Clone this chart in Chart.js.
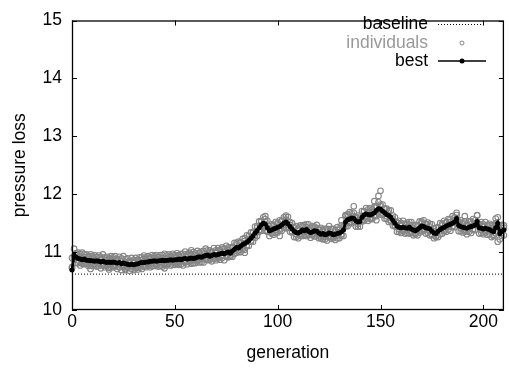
<!DOCTYPE html>
<html><head><meta charset="utf-8">
<script src="https://cdn.jsdelivr.net/npm/chart.js@4"></script>
<style>html,body{margin:0;padding:0;background:#fff}canvas{display:block}</style>
</head><body>
<canvas id="c" width="509" height="369"></canvas>
<script>
const xTicks = [0, 50, 100, 150, 200];
const yTicks = [10, 11, 12, 13, 14, 15];
const baseline = 10.62;
const best = [
10.69,10.95,10.91,10.89,10.88,10.87,10.88,10.86,10.86,10.85,
10.85,10.84,10.85,10.84,10.83,10.84,10.83,10.82,10.83,10.82,
10.83,10.82,10.81,10.82,10.80,10.81,10.80,10.79,10.78,10.79,
10.78,10.79,10.80,10.81,10.82,10.82,10.83,10.83,10.84,10.84,
10.85,10.84,10.85,10.85,10.86,10.85,10.86,10.86,10.87,10.86,
10.87,10.87,10.88,10.87,10.88,10.89,10.88,10.89,10.90,10.89,
10.90,10.91,10.92,10.91,10.93,10.94,10.95,10.93,10.94,10.96,
10.95,10.96,10.97,10.98,10.97,10.99,11.00,10.98,11.02,11.05,
11.08,11.07,11.10,11.13,11.15,11.17,11.20,11.24,11.28,11.33,
11.37,11.42,11.47,11.50,11.48,11.42,11.37,11.38,11.40,11.41,
11.43,11.44,11.47,11.50,11.52,11.49,11.44,11.40,11.36,11.34,
11.33,11.35,11.38,11.37,11.39,11.36,11.34,11.35,11.37,11.36,
11.33,11.31,11.32,11.30,11.31,11.33,11.32,11.30,11.31,11.32,
11.33,11.35,11.38,11.52,11.56,11.57,11.59,11.58,11.54,11.52,
11.53,11.60,11.64,11.66,11.65,11.64,11.66,11.68,11.72,11.75,
11.74,11.71,11.68,11.65,11.63,11.60,11.55,11.50,11.45,11.43,
11.42,11.43,11.42,11.41,11.43,11.40,11.38,11.37,11.39,11.42,
11.45,11.44,11.42,11.41,11.40,11.36,11.33,11.32,11.36,11.39,
11.41,11.43,11.45,11.47,11.48,11.50,11.52,11.58,11.46,11.44,
11.43,11.42,11.41,11.43,11.44,11.45,11.47,11.53,11.42,11.41,
11.40,11.41,11.40,11.39,11.37,11.35,11.42,11.50,11.32,11.36,11.38];
const indHi = [
10.90,11.06,10.98,10.99,10.97,10.99,10.96,10.96,10.93,10.96,
10.93,10.95,10.92,10.94,10.92,10.96,10.91,10.92,10.90,10.93,
10.91,10.93,10.88,10.92,10.89,10.93,10.88,10.89,10.85,10.90,
10.86,10.90,10.87,10.91,10.91,10.94,10.91,10.93,10.91,10.95,
10.93,10.95,10.92,10.95,10.95,10.97,10.94,10.96,10.94,10.97,
10.95,10.98,10.95,10.97,10.97,11.01,10.96,10.99,10.97,11.00,
10.98,11.02,10.99,11.01,11.02,11.06,11.03,11.03,11.01,11.07,
11.03,11.07,11.04,11.08,11.06,11.11,11.08,11.08,11.09,11.16,
11.16,11.18,11.17,11.23,11.24,11.29,11.28,11.34,11.35,11.44,
11.45,11.53,11.54,11.60,11.57,11.54,11.45,11.48,11.47,11.52,
11.51,11.55,11.54,11.60,11.61,11.61,11.52,11.50,11.43,11.45,
11.41,11.46,11.45,11.47,11.48,11.48,11.42,11.45,11.44,11.47,
11.41,11.42,11.39,11.40,11.40,11.45,11.40,11.40,11.38,11.43,
11.41,11.46,11.45,11.62,11.65,11.69,11.67,11.68,11.61,11.63,
11.61,11.71,11.71,11.76,11.74,11.76,11.74,11.78,11.79,11.86,
11.82,11.82,11.75,11.75,11.72,11.72,11.63,11.60,11.52,11.54,
11.50,11.54,11.49,11.51,11.52,11.52,11.46,11.47,11.46,11.53,
11.53,11.55,11.49,11.51,11.49,11.48,11.41,11.42,11.43,11.50,
11.49,11.54,11.52,11.57,11.57,11.62,11.60,11.68,11.53,11.55,
11.51,11.53,11.48,11.53,11.53,11.57,11.55,11.63,11.49,11.52,
11.48,11.52,11.47,11.49,11.46,11.47,11.50,11.60,11.39,11.47,11.46];
const indMid = [
10.74,10.91,10.97,10.86,10.92,10.82,10.91,10.82,10.91,10.82,
10.90,10.80,10.91,10.81,10.87,10.79,10.86,10.78,10.88,10.79,
10.88,10.78,10.87,10.79,10.84,10.76,10.83,10.75,10.83,10.76,
10.83,10.75,10.86,10.78,10.86,10.77,10.86,10.79,10.89,10.81,
10.90,10.80,10.91,10.82,10.90,10.80,10.89,10.82,10.92,10.83,
10.92,10.83,10.94,10.84,10.92,10.84,10.91,10.85,10.95,10.86,
10.95,10.87,10.98,10.88,10.97,10.89,10.98,10.89,10.99,10.93,
11.00,10.92,11.03,10.95,11.01,10.94,11.03,10.94,11.07,11.02,
11.13,11.03,11.16,11.10,11.19,11.12,11.23,11.20,11.33,11.30,
11.42,11.38,11.53,11.47,11.52,11.37,11.40,11.34,11.45,11.38,
11.48,11.40,11.53,11.47,11.56,11.44,11.47,11.36,11.41,11.31,
11.38,11.31,11.44,11.34,11.43,11.31,11.37,11.31,11.42,11.33,
11.38,11.27,11.38,11.27,11.35,11.28,11.35,11.26,11.36,11.29,
11.38,11.31,11.44,11.49,11.60,11.52,11.62,11.54,11.59,11.49,
11.58,11.56,11.70,11.63,11.69,11.59,11.69,11.64,11.77,11.72,
11.79,11.67,11.74,11.62,11.67,11.55,11.58,11.46,11.50,11.40,
11.47,11.39,11.48,11.38,11.47,11.35,11.41,11.33,11.44,11.39,
11.50,11.40,11.48,11.38,11.44,11.31,11.36,11.28,11.41,11.36,
11.46,11.39,11.51,11.44,11.52,11.45,11.55,11.54,11.51,11.41,
11.48,11.38,11.47,11.40,11.48,11.40,11.50,11.49,11.47,11.38,
11.45,11.37,11.46,11.36,11.41,11.30,11.45,11.46,11.37,11.33,11.42];
const indLo = [
10.72,10.88,10.81,10.81,10.77,10.80,10.79,10.80,10.76,10.77,
10.76,10.77,10.75,10.76,10.72,10.77,10.74,10.76,10.73,10.74,
10.74,10.75,10.71,10.74,10.69,10.74,10.71,10.73,10.68,10.71,
10.69,10.72,10.70,10.73,10.71,10.75,10.74,10.77,10.74,10.76,
10.76,10.77,10.75,10.77,10.75,10.78,10.77,10.80,10.77,10.78,
10.78,10.80,10.78,10.79,10.77,10.82,10.79,10.83,10.80,10.81,
10.81,10.84,10.82,10.83,10.82,10.87,10.86,10.87,10.84,10.88,
10.86,10.89,10.87,10.90,10.86,10.92,10.91,10.92,10.92,10.97,
10.99,11.00,11.00,11.05,11.04,11.10,11.11,11.18,11.18,11.25,
11.28,11.35,11.37,11.42,11.37,11.35,11.28,11.32,11.30,11.33,
11.34,11.37,11.37,11.42,11.41,11.42,11.35,11.34,11.26,11.26,
11.24,11.28,11.28,11.29,11.28,11.29,11.25,11.29,11.27,11.28,
11.24,11.24,11.22,11.22,11.20,11.26,11.23,11.24,11.21,11.24,
11.24,11.28,11.28,11.44,11.45,11.50,11.50,11.52,11.44,11.44,
11.44,11.53,11.54,11.58,11.54,11.57,11.57,11.62,11.62,11.67,
11.65,11.64,11.58,11.57,11.52,11.53,11.46,11.44,11.35,11.35,
11.33,11.36,11.32,11.33,11.32,11.33,11.29,11.31,11.29,11.34,
11.36,11.37,11.32,11.33,11.29,11.29,11.24,11.26,11.26,11.31,
11.32,11.36,11.35,11.39,11.37,11.43,11.43,11.52,11.36,11.36,
11.34,11.35,11.31,11.35,11.33,11.38,11.38,11.47,11.32,11.33,
11.31,11.34,11.30,11.31,11.26,11.28,11.33,11.44,11.22,11.28,11.29];
const outliers = [[9,10.71],[18,10.70],[26,10.69],[45,10.72],[58,11.03],[84,10.99],[94,11.62],[101,11.28],[104,11.63],[131,11.55],[133,11.64],[137,11.79],[147,11.88],[149,11.97],[150,12.06],[148,11.55],[187,11.64],[191,11.62],[197,11.64],[206,11.58],[207,11.18]];
const seriesNames = ['baseline', 'individuals', 'best'];

const FONT = "'Liberation Sans', Arial, sans-serif";
const GRAY = '#858585';

const bestPts = best.map((v, i) => ({x: i, y: v}));
const indPts = [];
[indHi, indMid, indLo].forEach(arr => arr.forEach((v, i) => indPts.push({x: i, y: v})));
outliers.forEach(p => indPts.push({x: p[0], y: p[1]}));

const framePlugin = {
  id: 'frame',
  afterDatasetsDraw(chart) {
    const {ctx, chartArea: a, scales} = chart;
    ctx.save();
    ctx.strokeStyle = '#000';
    ctx.lineWidth = 1.3;
    ctx.strokeRect(a.left + 0.5, a.top + 0.5, a.right - a.left - 1, a.bottom - a.top - 1);
    ctx.lineWidth = 1;
    const tl = 5;
    ctx.beginPath();
    xTicks.forEach(v => {
      const px = Math.round(scales.x.getPixelForValue(v)) + 0.5;
      ctx.moveTo(px, a.bottom); ctx.lineTo(px, a.bottom - tl);
      ctx.moveTo(px, a.top); ctx.lineTo(px, a.top + tl);
    });
    yTicks.forEach(v => {
      const py = Math.round(scales.y.getPixelForValue(v)) + 0.5;
      ctx.moveTo(a.left, py); ctx.lineTo(a.left + tl, py);
      ctx.moveTo(a.right, py); ctx.lineTo(a.right - tl, py);
    });
    ctx.stroke();
    // key
    ctx.font = '17.5px ' + FONT;
    ctx.textAlign = 'right';
    ctx.textBaseline = 'middle';
    const tx = 428, sx0 = 438, sx1 = 486, sxm = 462;
    const rows = [24, 43, 61];
    ctx.fillStyle = '#000';
    ctx.fillText(seriesNames[0], tx, rows[0]);
    ctx.fillStyle = '#999';
    ctx.fillText(seriesNames[1], tx, rows[1]);
    ctx.fillStyle = '#000';
    ctx.fillText(seriesNames[2], tx, rows[2]);
    ctx.beginPath();
    ctx.setLineDash([1, 2]);
    ctx.strokeStyle = '#000';
    ctx.lineWidth = 1;
    ctx.moveTo(sx0, rows[0] + 0.5); ctx.lineTo(sx1, rows[0] + 0.5);
    ctx.stroke();
    ctx.setLineDash([]);
    ctx.beginPath();
    ctx.strokeStyle = GRAY;
    ctx.arc(sxm, rows[1], 2, 0, Math.PI * 2);
    ctx.stroke();
    ctx.beginPath();
    ctx.strokeStyle = '#000';
    ctx.lineWidth = 1.5;
    ctx.moveTo(sx0, rows[2]); ctx.lineTo(sx1, rows[2]);
    ctx.stroke();
    ctx.beginPath();
    ctx.fillStyle = '#000';
    ctx.arc(sxm, rows[2], 2.5, 0, Math.PI * 2);
    ctx.fill();
    ctx.restore();
  }
};

new Chart(document.getElementById('c'), {
  type: 'scatter',
  data: {
    datasets: [
      {label: seriesNames[0], order: 3, data: [{x: 0, y: baseline}, {x: 210, y: baseline}], showLine: true,
       borderColor: '#000', borderWidth: 1, borderDash: [1, 2], pointRadius: 0},
      {label: seriesNames[1], order: 2, data: indPts, showLine: false, pointStyle: 'circle',
       pointRadius: 2.8, borderColor: GRAY, backgroundColor: 'rgba(0,0,0,0)', borderWidth: 1.1, clip: 6},
      {label: seriesNames[2], order: 1, data: bestPts, showLine: true, borderColor: '#000', borderWidth: 2.8,
       pointRadius: 2.5, pointBackgroundColor: '#000', pointBorderColor: '#000', pointBorderWidth: 0, clip: 6}
    ]
  },
  options: {
    responsive: false,
    animation: false,
    devicePixelRatio: 1,
    layout: {padding: {top: 12, right: 1, left: 0, bottom: 0}},
    plugins: {legend: {display: false}, tooltip: {enabled: false}},
    scales: {
      x: {
        type: 'linear', min: 0, max: 210,
        afterBuildTicks: s => { s.ticks = xTicks.map(v => ({value: v})); },
        afterFit: s => { s.height = 59; },
        grid: {display: false, drawTicks: false},
        border: {display: false},
        ticks: {padding: 2, color: '#000', font: {family: FONT, size: 17.5}},
        title: {display: true, text: 'generation', color: '#000', font: {family: FONT, size: 17.5}, padding: {top: 0, bottom: 5}}
      },
      y: {
        type: 'linear', min: 10, max: 15,
        afterBuildTicks: s => { s.ticks = yTicks.map(v => ({value: v})); },
        afterFit: s => { s.width = 72; },
        grid: {display: false, drawTicks: false},
        border: {display: false},
        ticks: {padding: 10, color: '#000', font: {family: FONT, size: 17.5}},
        title: {display: true, text: 'pressure loss', color: '#000', font: {family: FONT, size: 17.5}, padding: {top: 10, bottom: 0}}
      }
    }
  },
  plugins: [framePlugin]
});
</script>
</body></html>
